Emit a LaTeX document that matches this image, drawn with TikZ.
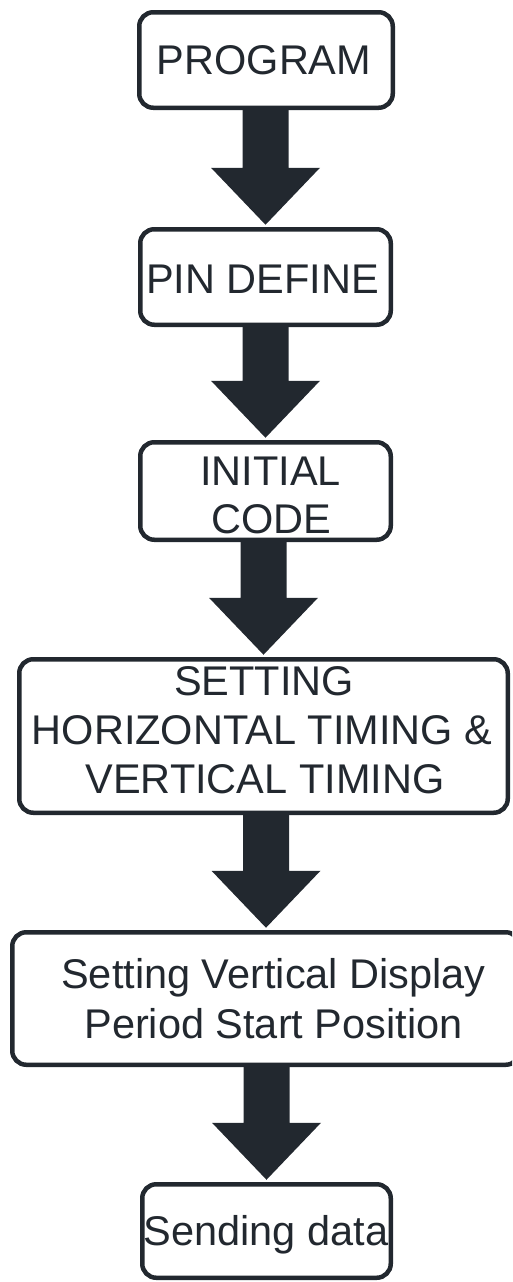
\documentclass[tikz,border=0pt]{standalone}
\usepackage{fontspec}
\setmainfont{Liberation Sans}
\usetikzlibrary{calc}
\definecolor{ink}{HTML}{22282F}
\tikzset{
  flowbox/.style={draw=ink, line width=4.5pt, rounded corners=14pt, fill=white, inner sep=0pt},
  flowtext/.style={anchor=base, inner sep=0pt, text=ink, font=\fontsize{41.5}{49}\selectfont},
  arrowfill/.style={fill=ink}
}
\newcommand{\fatarrow}[2]{%
  \fill[arrowfill] let \p1=(#1.south), \p2=(#2.north) in
    (\x2-23pt,\y1) -- (\x2-23pt,\y2+59.25pt) -- (\x2-54.5pt,\y2+59.25pt) --
    (\x2,\y2+2.25pt) -- (\x2+54.5pt,\y2+59.25pt) -- (\x2+23pt,\y2+59.25pt) --
    (\x2+23pt,\y1) -- cycle;}
\begin{document}
\begin{tikzpicture}[x=1pt,y=-1pt]
\clip (0,0) rectangle (512,1282);
% boxes
\node[flowbox, minimum width=253.5pt, minimum height=95.5pt] (b1) at (266,60) {};
\node[flowbox, minimum width=250.5pt, minimum height=95.5pt] (b2) at (265.5,277) {};
\node[flowbox, minimum width=250.5pt, minimum height=97.5pt] (b3) at (265.5,491) {};
\node[flowbox, minimum width=488.5pt, minimum height=153.5pt] (b4) at (263.5,736) {};
\node[flowbox, minimum width=507.5pt, minimum height=132.5pt] (b5) at (266,998.5) {};
\node[flowbox, minimum width=248.5pt, minimum height=93.5pt] (b6) at (266.5,1231) {};
% texts
\node[flowtext] (t1) at (264,74) {PROGRAM};
\node[flowtext] (t2) at (262.5,293) {PIN DEFINE};
\node[flowtext] (t3a) at (270.5,485) {INITIAL};
\node[flowtext] (t3b) at (271.5,533) {CODE};
\node[flowtext] (t4a) at (264,695) {SETTING};
\node[flowtext] (t4b) at (262,744) {HORIZONTAL TIMING \&};
\node[flowtext] (t4c) at (265,793) {VERTICAL TIMING};
\node[flowtext] (t5a) at (273.5,988) {Setting Vertical Display};
\node[flowtext] (t5b) at (273.5,1038) {Period Start Position};
\node[flowtext] (t6) at (266,1245) {Sending data};
% arrows
\fatarrow{b1}{b2}
\fatarrow{b2}{b3}
\fatarrow{b3}{b4}
\fatarrow{b4}{b5}
\fatarrow{b5}{b6}
\end{tikzpicture}
\end{document}
